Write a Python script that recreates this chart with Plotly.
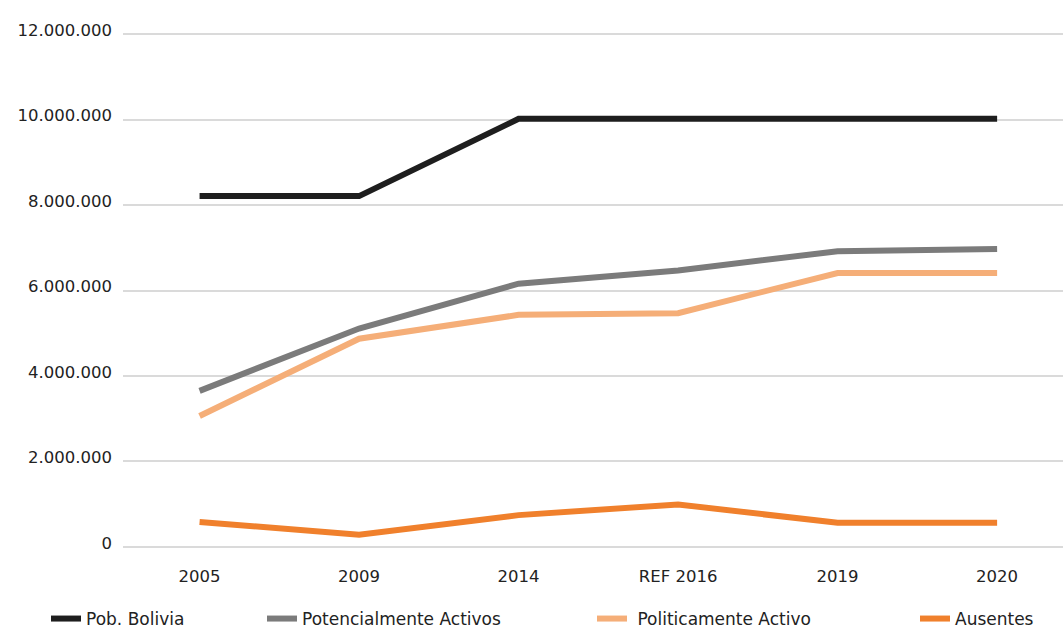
import plotly.graph_objects as go

categories = ["2005", "2009", "2014", "REF 2016", "2019", "2020"]
pob_bolivia = [8210000, 8210000, 10020000, 10020000, 10020000, 10020000]
potencialmente = [3650000, 5110000, 6160000, 6470000, 6920000, 6970000]
politicamente = [3060000, 4870000, 5430000, 5470000, 6410000, 6410000]
ausentes = [580000, 280000, 740000, 990000, 560000, 560000]

series = [
    ("Pob. Bolivia", pob_bolivia, "#1e1e1e", "legend"),
    ("Potencialmente Activos", potencialmente, "#7b7b7b", "legend2"),
    (" Politicamente Activo", politicamente, "#f5ae78", "legend3"),
    ("Ausentes", ausentes, "#f0802c", "legend4"),
]

y_ticks = [0, 2000000, 4000000, 6000000, 8000000, 10000000, 12000000]
y_tick_labels = ["0", "2.000.000", "4.000.000", "6.000.000", "8.000.000", "10.000.000", "12.000.000"]

FONT = "DejaVu Sans"
TXT = "#222222"
fig = go.Figure()
for name, vals, color, lg in series:
    fig.add_trace(go.Scatter(
        x=categories, y=vals, name=name, mode="lines",
        line=dict(color=color, width=6),
        legend=lg,
    ))

W, H = 1063, 634
ml, mr, mt, mb = 123, 0, 30, 83

legend_text_px = [86, 302, 637, 955]
leg_common = dict(orientation="h", yanchor="middle", y=1 - 619 / H, yref="container",
                  xanchor="left", xref="container",
                  font=dict(family=FONT, size=17, color=TXT),
                  bgcolor="rgba(0,0,0,0)", itemwidth=30)
legend_x = [(p - 40) / W for p in legend_text_px]
legend_x[2] = (legend_text_px[2] - 45) / W

fig.update_layout(
    width=W, height=H, showlegend=True,
    margin=dict(l=ml, r=mr, t=mt, b=mb, autoexpand=False),
    plot_bgcolor="white", paper_bgcolor="white",
    font=dict(family=FONT, size=16, color=TXT),
    legend=dict(x=legend_x[0], **leg_common),
    legend2=dict(x=legend_x[1], **leg_common),
    legend3=dict(x=legend_x[2], **leg_common),
    legend4=dict(x=legend_x[3], **leg_common),
    xaxis=dict(
        type="category", range=[-0.48, 5.413],
        showgrid=False, showline=False, zeroline=False,
        ticks="", ticklabelstandoff=13,
        tickfont=dict(family=FONT, size=16.5, color=TXT),
    ),
    yaxis=dict(
        range=[-100000, 12100000], tickvals=y_ticks, ticktext=y_tick_labels,
        showgrid=True, gridcolor="#dadada", gridwidth=1.5,
        zeroline=False, showline=False, ticks="",
        ticklabelstandoff=10, ticklabelshift=-4,
        tickfont=dict(family=FONT, size=16.5, color=TXT),
    ),
)

fig.write_html(
    "out.html",
    config={"displayModeBar": False},
    post_script="document.body.style.margin='0';document.body.style.overflow='hidden';",
)
